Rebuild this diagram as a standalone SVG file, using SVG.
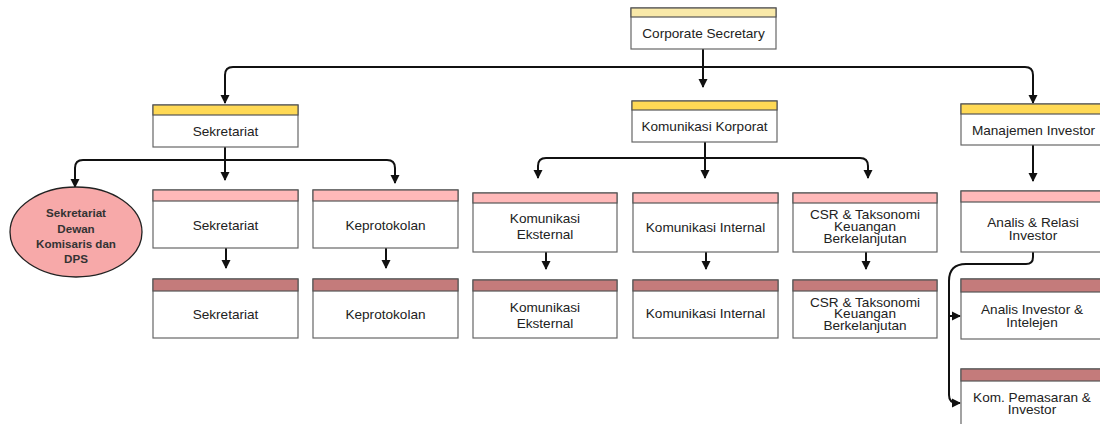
<svg xmlns="http://www.w3.org/2000/svg" width="1100" height="424" viewBox="0 0 1100 424">
<defs>
<style>
.box{fill:#fff;stroke:#666;stroke-width:1.2}
.hd{stroke:#555;stroke-width:1.2}
.h0{fill:#F9E9A9}
.h1{fill:#FFD955}
.h2{fill:#FFB9B9}
.h3{fill:#C47B7B}
.t{font-family:"Liberation Sans",Arial,sans-serif;font-size:13.6px;fill:#222;text-anchor:middle}
.tb{font-family:"Liberation Sans",Arial,sans-serif;font-size:11.6px;font-weight:bold;fill:#333;text-anchor:middle}
.c{fill:none;stroke:#111;stroke-width:2;stroke-linejoin:round}
</style>
<marker id="ar" markerWidth="10" markerHeight="10" refX="8" refY="5" orient="auto" markerUnits="userSpaceOnUse">
<path d="M0,0.5 L9,5 L0,9.5 Z" fill="#111"/>
</marker>
</defs>
<rect width="1100" height="424" fill="#fff"/>

<g id="connectors">
<path class="c" d="M703,49 V87" marker-end="url(#ar)"/>
<path class="c" d="M225,103 V75 Q225,67 233,67 H1025 Q1033,67 1033,75 V103" marker-end="url(#ar)"/>
<path class="c" d="M225,75 V103" marker-end="url(#ar)"/>
<path class="c" d="M225,147 V180" marker-end="url(#ar)"/>
<path class="c" d="M75,187 V168 Q75,160 83,160 H387 Q395,160 395,168 V183" marker-end="url(#ar)"/>
<path class="c" d="M75,168 V187" marker-end="url(#ar)"/>
<path class="c" d="M705,142 V178" marker-end="url(#ar)"/>
<path class="c" d="M538,178 V166 Q538,158 546,158 H860 Q868,158 868,166 V178" marker-end="url(#ar)"/>
<path class="c" d="M538,166 V178" marker-end="url(#ar)"/>
<path class="c" d="M226,248 V268" marker-end="url(#ar)"/>
<path class="c" d="M386,248 V268" marker-end="url(#ar)"/>
<path class="c" d="M546,252 V269" marker-end="url(#ar)"/>
<path class="c" d="M706,252 V269" marker-end="url(#ar)"/>
<path class="c" d="M866,252 V269" marker-end="url(#ar)"/>
<path class="c" d="M1033,145 V181" marker-end="url(#ar)"/>
<path class="c" d="M1033,252 V257 Q1033,264 1026,264 H966 Q949,264 949,281 V395 Q949,403 957,403 H960" marker-end="url(#ar)"/>
<path class="c" d="M949,316 H960" marker-end="url(#ar)"/>
</g>

<g id="corporate-secretary">
<rect class="box" x="631" y="8" width="145" height="41"/>
<rect class="hd h0" x="631" y="8" width="145" height="9"/>
<text class="t" x="703.5" y="38">Corporate Secretary</text>
</g>

<g id="sekretariat-l1">
<rect class="box" x="153" y="105" width="145" height="42"/>
<rect class="hd h1" x="153" y="105" width="145" height="10"/>
<text class="t" x="225.5" y="136">Sekretariat</text>
</g>

<g id="komunikasi-korporat">
<rect class="box" x="632" y="101" width="145" height="41"/>
<rect class="hd h1" x="632" y="101" width="145" height="9"/>
<text class="t" x="704.5" y="131">Komunikasi Korporat</text>
</g>

<g id="manajemen-investor">
<rect class="box" x="961" y="104" width="146" height="41"/>
<rect class="hd h1" x="961" y="104" width="146" height="10"/>
<text class="t" x="1033.5" y="134.5">Manajemen Investor</text>
</g>

<g id="sekretariat-dewan">
<ellipse cx="76" cy="232" rx="66" ry="45" fill="#F7A9A9" stroke="#222" stroke-width="1.3"/>
<text class="tb" x="76" y="217">Sekretariat</text>
<text class="tb" x="76" y="233">Dewan</text>
<text class="tb" x="76" y="248">Komisaris dan</text>
<text class="tb" x="76" y="263">DPS</text>
</g>

<g id="sekretariat-l2">
<rect class="box" x="153" y="190" width="145" height="58"/>
<rect class="hd h2" x="153" y="190" width="145" height="11"/>
<text class="t" x="225.5" y="229.5">Sekretariat</text>
</g>

<g id="keprotokolan-l2">
<rect class="box" x="313" y="190" width="145" height="58"/>
<rect class="hd h2" x="313" y="190" width="145" height="11"/>
<text class="t" x="385.5" y="229.5">Keprotokolan</text>
</g>

<g id="komunikasi-eksternal-l2">
<rect class="box" x="473" y="193" width="144" height="59"/>
<rect class="hd h2" x="473" y="193" width="144" height="10"/>
<text class="t" x="545" y="223">Komunikasi</text>
<text class="t" x="545" y="239">Eksternal</text>
</g>

<g id="komunikasi-internal-l2">
<rect class="box" x="633" y="193" width="145" height="59"/>
<rect class="hd h2" x="633" y="193" width="145" height="10"/>
<text class="t" x="705.5" y="232">Komunikasi Internal</text>
</g>

<g id="csr-l2">
<rect class="box" x="793" y="193" width="144" height="59"/>
<rect class="hd h2" x="793" y="193" width="144" height="10"/>
<text class="t" x="865" y="219">CSR &amp; Taksonomi</text>
<text class="t" x="865" y="231">Keuangan</text>
<text class="t" x="865" y="242.5">Berkelanjutan</text>
</g>

<g id="analis-relasi-investor">
<rect class="box" x="961" y="191" width="146" height="61"/>
<rect class="hd h2" x="961" y="191" width="146" height="11"/>
<text class="t" x="1033" y="227">Analis &amp; Relasi</text>
<text class="t" x="1033" y="239.5">Investor</text>
</g>

<g id="sekretariat-l3">
<rect class="box" x="153" y="279" width="145" height="59"/>
<rect class="hd h3" x="153" y="279" width="145" height="12"/>
<text class="t" x="225.5" y="319">Sekretariat</text>
</g>

<g id="keprotokolan-l3">
<rect class="box" x="313" y="279" width="145" height="59"/>
<rect class="hd h3" x="313" y="279" width="145" height="12"/>
<text class="t" x="385.5" y="319">Keprotokolan</text>
</g>

<g id="komunikasi-eksternal-l3">
<rect class="box" x="473" y="280" width="144" height="58"/>
<rect class="hd h3" x="473" y="280" width="144" height="11"/>
<text class="t" x="545" y="312">Komunikasi</text>
<text class="t" x="545" y="328">Eksternal</text>
</g>

<g id="komunikasi-internal-l3">
<rect class="box" x="633" y="280" width="145" height="58"/>
<rect class="hd h3" x="633" y="280" width="145" height="11"/>
<text class="t" x="705.5" y="318">Komunikasi Internal</text>
</g>

<g id="csr-l3">
<rect class="box" x="793" y="280" width="144" height="58"/>
<rect class="hd h3" x="793" y="280" width="144" height="11"/>
<text class="t" x="865" y="307">CSR &amp; Taksonomi</text>
<text class="t" x="865" y="318">Keuangan</text>
<text class="t" x="865" y="329.5">Berkelanjutan</text>
</g>

<g id="analis-investor-intelejen">
<rect class="box" x="961" y="279" width="146" height="60"/>
<rect class="hd h3" x="961" y="279" width="146" height="13"/>
<text class="t" x="1032" y="314">Analis Investor &amp;</text>
<text class="t" x="1032" y="327">Intelejen</text>
</g>

<g id="kom-pemasaran-investor">
<rect class="box" x="961" y="369" width="146" height="65"/>
<rect class="hd h3" x="961" y="369" width="146" height="12"/>
<text class="t" x="1032" y="402">Kom. Pemasaran &amp;</text>
<text class="t" x="1032" y="414">Investor</text>
</g>
</svg>
